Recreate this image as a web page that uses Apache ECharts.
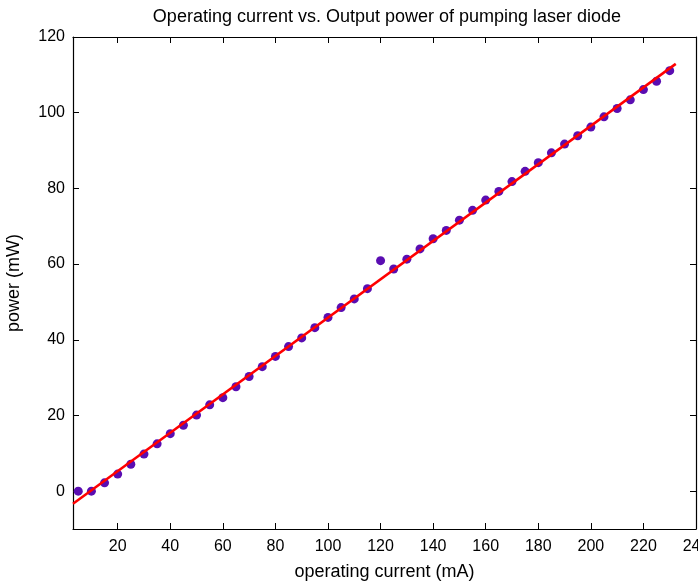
<!DOCTYPE html>
<html>
<head>
<meta charset="utf-8">
<script src="https://cdn.jsdelivr.net/npm/echarts@6/dist/echarts.min.js"></script>
<style>
  html, body { margin: 0; padding: 0; background: #fff; }
  #chart { width: 698px; height: 585px; }
</style>
</head>
<body>
<div id="chart"></div>
<script>
// measured values (operating current in mA, power in mW)
var current = [5, 10, 15, 20, 25, 30, 35, 40, 45, 50, 55, 60, 65, 70, 75, 80, 85, 90, 95,
  100, 105, 110, 115, 120, 125, 130, 135, 140, 145, 150, 155, 160, 165, 170, 175, 180,
  185, 190, 195, 200, 205, 210, 215, 220, 225, 230]
var power = [0, 0, 2.2, 4.5, 7.1, 9.8, 12.5, 15.2, 17.4, 20.1, 22.8, 24.7, 27.6, 30.3,
  32.9, 35.6, 38.2, 40.5, 43.2, 45.9, 48.5, 50.8, 53.5, 60.9, 58.7, 61.3, 64.0, 66.7,
  68.9, 71.6, 74.2, 76.9, 79.2, 81.8, 84.5, 86.8, 89.4, 91.7, 93.9, 96.2, 98.9, 101.1,
  103.4, 106.1, 108.3, 111.1]

// linear fit, end points
var fitX = [3, 232.3]
var fitY = [-3.3, 112.9]

var xTicks = [20, 40, 60, 80, 100, 120, 140, 160, 180, 200, 220, 240]
var yTicks = [0, 20, 40, 60, 80, 100, 120]

var font = 'Liberation Sans, Arial, Helvetica, sans-serif'

var chart = echarts.init(document.getElementById('chart'))

function xAxisOpt(pos, labels) {
  return {
    type: 'value',
    position: pos,
    min: 3,
    max: 240,
    splitLine: { show: false },
    axisLine: { onZero: false, lineStyle: { color: '#000', width: 1.2 } },
    axisTick: { inside: true, length: 6, customValues: xTicks, lineStyle: { color: '#000' } },
    axisLabel: { show: labels, customValues: xTicks, margin: 10, color: '#000', fontSize: 16, fontFamily: font }
  }
}

function yAxisOpt(pos, labels) {
  return {
    type: 'value',
    position: pos,
    min: -10,
    max: 120,
    splitLine: { show: false },
    axisLine: { onZero: false, lineStyle: { color: '#000', width: 1.2 } },
    axisTick: { inside: true, length: 6, customValues: yTicks, lineStyle: { color: '#000' } },
    axisLabel: { show: labels, customValues: yTicks, margin: 8, color: '#000', fontSize: 16, fontFamily: font }
  }
}

var xBottom = xAxisOpt('bottom', true)
xBottom.name = 'operating current (mA)'
xBottom.nameLocation = 'middle'
xBottom.nameGap = 34
xBottom.nameTextStyle = { color: '#000', fontSize: 18, fontFamily: font }

var yLeft = yAxisOpt('left', true)
yLeft.name = 'power (mW)'
yLeft.nameLocation = 'middle'
yLeft.nameGap = 50
yLeft.nameTextStyle = { color: '#000', fontSize: 18, fontFamily: font }

chart.setOption({
  animation: false,
  title: {
    text: 'Operating current vs. Output power of pumping laser diode',
    left: 382,
    textAlign: 'center',
    top: 3,
    textStyle: { color: '#000', fontSize: 18, fontWeight: 'normal', fontFamily: font }
  },
  grid: { left: 73, top: 37, right: 2, bottom: 56, outerBoundsMode: 'none', containLabel: false },
  xAxis: [xBottom, xAxisOpt('top', false)],
  yAxis: [yLeft, yAxisOpt('right', false)],
  series: [
    {
      name: 'data',
      type: 'scatter',
      symbolSize: 9,
      itemStyle: { color: '#5a0db2', opacity: 1 },
      data: current.map(function(c, i) { return [c, power[i]] }),
      z: 2
    },
    {
      name: 'fit',
      type: 'line',
      symbol: 'none',
      lineStyle: { color: '#ff0000', width: 2.5 },
      data: fitX.map(function(x, i) { return [x, fitY[i]] }),
      z: 3
    }
  ]
})
</script>
</body>
</html>
